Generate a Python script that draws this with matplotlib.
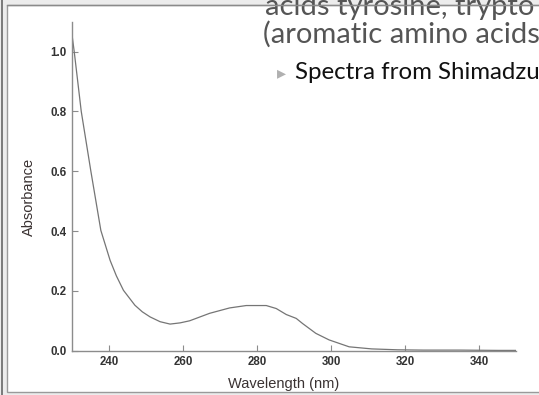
import matplotlib
matplotlib.use("Agg")
import matplotlib.pyplot as plt
from matplotlib.patches import Rectangle
from matplotlib.lines import Line2D

# Spectrum
wavelength = [230.1, 230.6, 232.5, 235.1, 237.8, 240.3, 242.0, 243.9, 247.0, 249.0,
              251.1, 253.8, 256.5, 259.2, 261.8, 267.2, 272.6, 277.1, 282.5, 285.2,
              287.9, 290.6, 292.3, 295.9, 299.5, 304.9, 311.0, 318.0, 325.0, 335.0,
              345.0, 349.9]
absorbance = [1.047, 1.000, 0.800, 0.600, 0.402, 0.302, 0.250, 0.202, 0.152, 0.130,
              0.113, 0.097, 0.089, 0.093, 0.100, 0.125, 0.143, 0.151, 0.151, 0.141,
              0.121, 0.108, 0.091, 0.058, 0.036, 0.013, 0.006, 0.003, 0.002, 0.002,
              0.001, 0.001]

x_ticks = [240, 260, 280, 300, 320, 340]
y_ticks = [0.0, 0.2, 0.4, 0.6, 0.8, 1.0]

slide_lines = ["acids tyrosine, trypto", "(aromatic amino acids"]
bullet_text = "Spectra from Shimadzu"

W, H = 539, 395


def fx(px):
    return px / W


def fy(py):
    return 1 - py / H


fig = plt.figure(figsize=(W / 100, H / 100), dpi=100, facecolor="#ececec")

# white picture box with thin grey frame
fig.add_artist(Rectangle((fx(7), fy(392)), fx(540) - fx(7), fy(4.5) - fy(392),
                         transform=fig.transFigure, facecolor="white",
                         edgecolor="#9a9a9a", linewidth=1.0, zorder=0))
fig.add_artist(Line2D([fx(1.5), fx(1.5)], [0, 1], transform=fig.transFigure,
                      color="#666666", linewidth=1.2))

ax = fig.add_axes([fx(72), fy(350.7), fx(516) - fx(72), fy(21.7) - fy(350.7)])
ax.set_facecolor("none")
ax.plot(wavelength, absorbance, color="#757575", linewidth=0.9)

ax.set_xlim(230, 350)
ax.set_ylim(0, 1.1)
ax.set_xticks(x_ticks)
ax.set_yticks(y_ticks)
ax.set_yticklabels([f"{v:.1f}" for v in y_ticks])
for side in ["top", "right"]:
    ax.spines[side].set_visible(False)
for side in ["left", "bottom"]:
    ax.spines[side].set_color("#8c8c8c")
    ax.spines[side].set_linewidth(1.0)
ax.tick_params(direction="in", length=4, width=0.8, color="#8c8c8c",
               labelsize=8.3, labelcolor="#333333", pad=4)
for lab in ax.get_xticklabels() + ax.get_yticklabels():
    lab.set_family("Liberation Sans")
    lab.set_fontweight("bold")

ax.set_xlabel("Wavelength (nm)", fontsize=10.5, color="#3a3232",
              family="Liberation Sans")
ax.set_ylabel("Absorbance", fontsize=10.5, color="#3a3232",
              family="Liberation Sans")
ax.xaxis.set_label_coords((283.6 - 72) / 444, (350.7 - 377) / 329)
ax.yaxis.set_label_coords((36 - 72) / 444, (350.7 - 197) / 329)

# slide text lying over the picture
fig.text(fx(265), fy(15), slide_lines[0], fontsize=21, color="#555555",
         family="Lato", va="baseline", ha="left")
fig.text(fx(263), fy(43), slide_lines[1], fontsize=21, color="#555555",
         family="Lato", va="baseline", ha="left")
fig.text(fx(277), fy(78), "\u25b8", fontsize=13, color="#b0b0b0",
         family="DejaVu Sans", va="baseline", ha="left")
fig.text(fx(295), fy(79), bullet_text, fontsize=17.3, color="#111111",
         family="Lato", va="baseline", ha="left")

# top frame line runs across the slide text
fig.add_artist(Line2D([fx(7), 1], [fy(4.5), fy(4.5)], transform=fig.transFigure,
                      color="#8a8a8a", linewidth=1.0, zorder=5))

fig.savefig("out.png", dpi=100, facecolor=fig.get_facecolor())
